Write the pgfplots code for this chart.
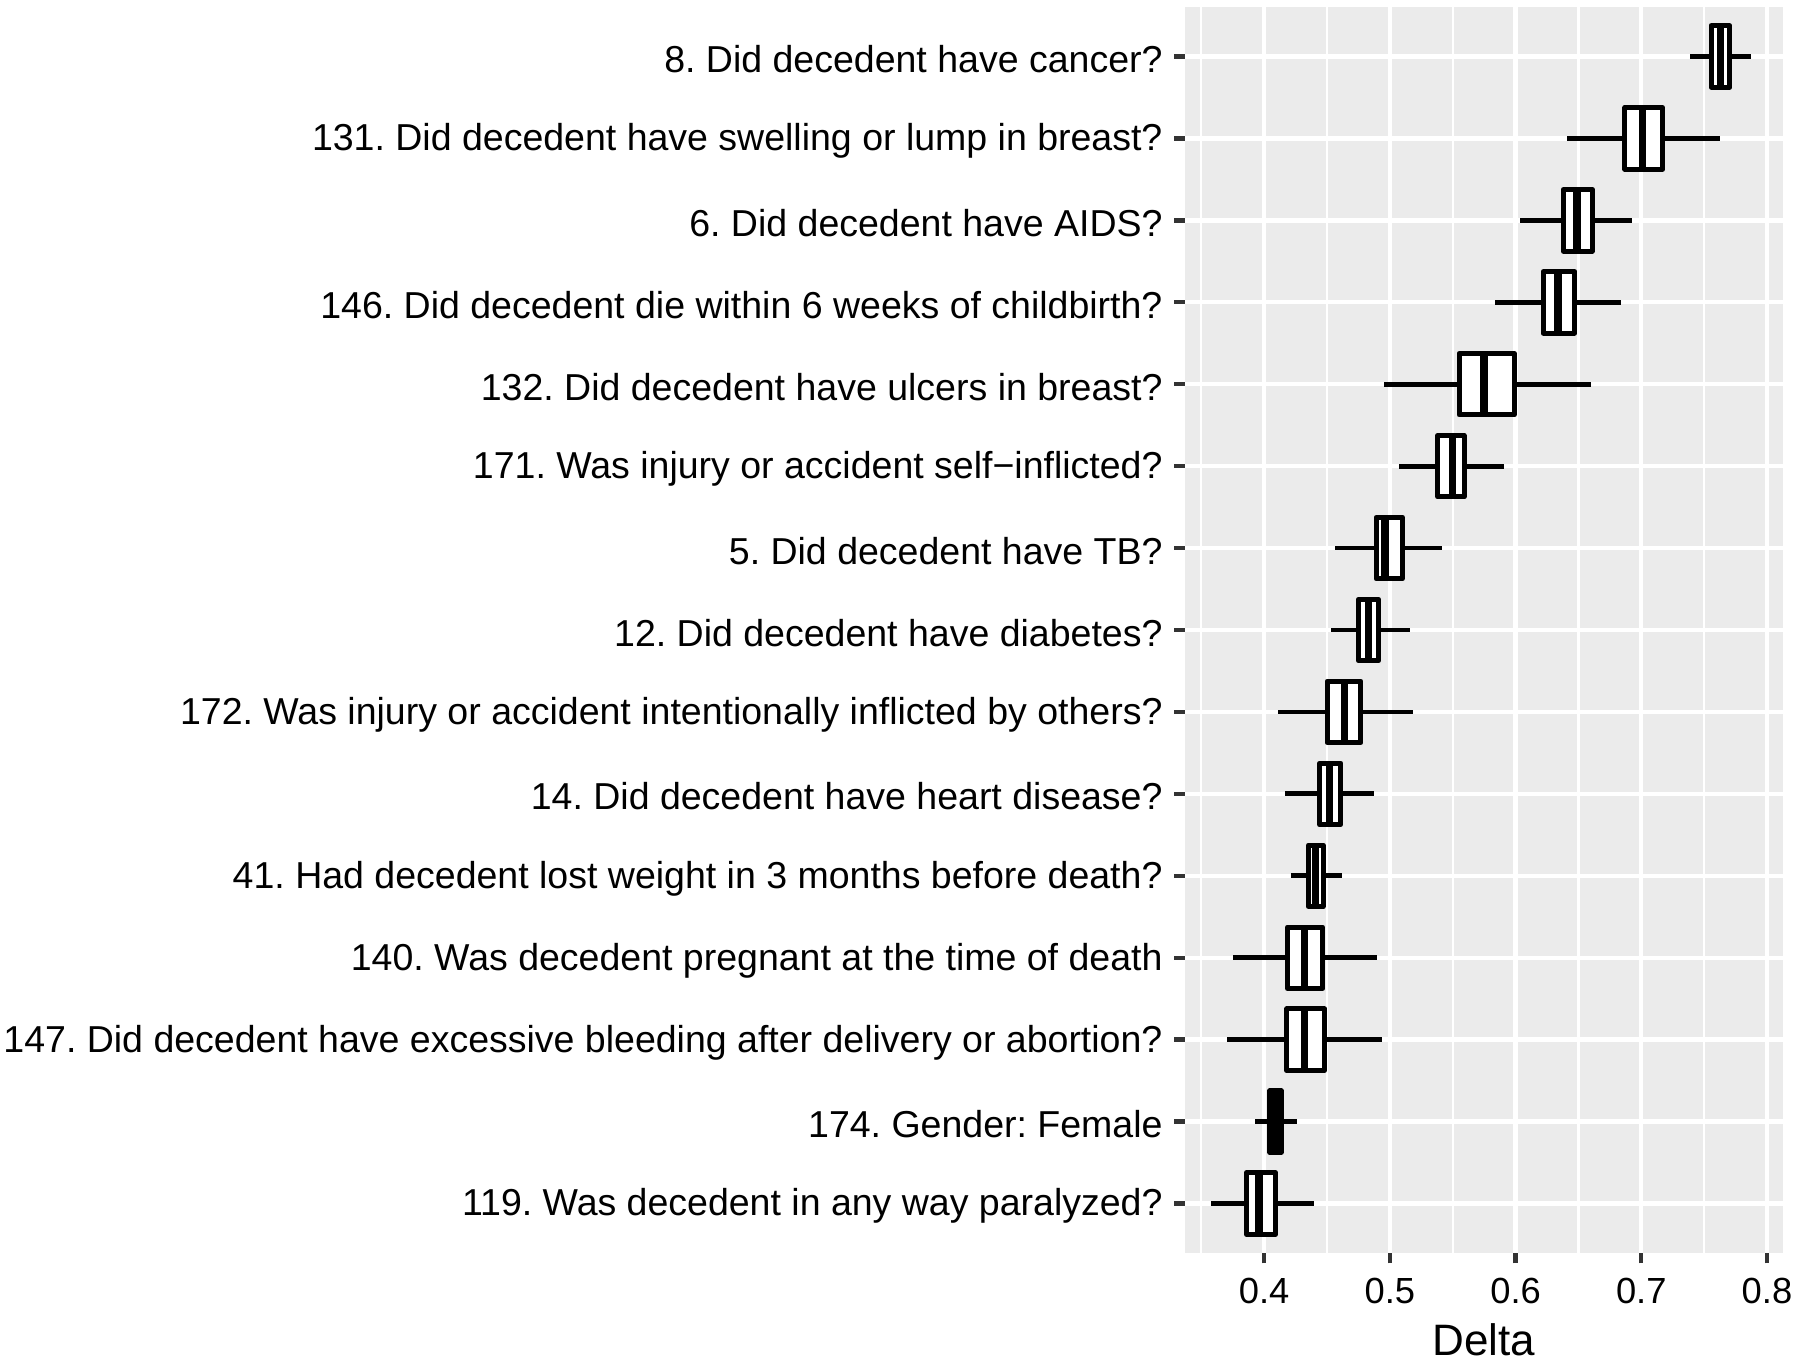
\documentclass[border=0pt]{standalone}
\usepackage{fontspec}
\setmainfont{Liberation Sans}
\usepackage{pgfplots}
\pgfplotsset{compat=1.18}
\usepgfplotslibrary{statistics}
\definecolor{panelbg}{HTML}{EBEBEB}
\definecolor{tickcol}{HTML}{333333}
\frenchspacing
\begin{document}
\begin{tikzpicture}
\begin{axis}[
  scale only axis,
  width=179.3pt, height=373.6pt,
  xmin=0.337, xmax=0.8125, ymin=0.4, ymax=15.6,
  axis background/.style={fill=panelbg},
  axis line style={draw=none},
  xtick={0.4,0.5,0.6,0.7,0.8},
  xticklabels={0.4,0.5,0.6,0.7,0.8},
  minor xtick={0.35,0.45,0.55,0.65,0.75},
  ytick={1,2,3,4,5,6,7,8,9,10,11,12,13,14,15},
  yticklabels={
    119. Was decedent in any way paralyzed?,
    174. Gender: Female,
    147. Did decedent have excessive bleeding after delivery or abortion?,
    140. Was decedent pregnant at the time of death,
    41. Had decedent lost weight in 3 months before death?,
    14. Did decedent have heart disease?,
    172. Was injury or accident intentionally inflicted by others?,
    12. Did decedent have diabetes?,
    5. Did decedent have TB?,
    171. Was injury or accident self−inflicted?,
    132. Did decedent have ulcers in breast?,
    146. Did decedent die within 6 weeks of childbirth?,
    6. Did decedent have AIDS?,
    131. Did decedent have swelling or lump in breast?,
    8. Did decedent have cancer?},
  xmajorgrids, xminorgrids, ymajorgrids,
  major grid style={white, line width=1.3pt},
  minor grid style={white, line width=0.7pt},
  xtick pos=left, ytick pos=left,
  tick align=outside,
  major tick length=3.2pt, minor tick length=0pt,
  major tick style={tickcol, line width=1.3pt},
  minor tick style={draw=none},
  /pgf/number format/assume math mode=true,
  xticklabel style={font=\fontsize{10.9}{12}\selectfont, text=black, yshift=-0.8pt},
  yticklabel style={font=\fontsize{11.25}{13}\selectfont, text=black, yshift=-0.8pt},
  xlabel={Delta},
  xlabel style={font=\fontsize{13.2}{15}\selectfont, at={(axis description cs:0.5,0)}, anchor=base, yshift=-30.7pt},
  boxplot/box extend=0.75,
  boxplot/whisker extend=0,
  boxplot/every box/.style={draw=black, fill=white, line width=1.5pt, line join=round},
  boxplot/every whisker/.style={draw=black, line width=1.45pt},
  boxplot/every median/.style={draw=black, line width=2.3pt},
]
\addplot[black, boxplot prepared={draw position=15, lower whisker=0.739, lower quartile=0.7555, median=0.763, upper quartile=0.7705, upper whisker=0.787}] coordinates {};
\addplot[black, boxplot prepared={draw position=14, lower whisker=0.641, lower quartile=0.687, median=0.701, upper quartile=0.717, upper whisker=0.763}] coordinates {};
\addplot[black, boxplot prepared={draw position=13, lower whisker=0.6035, lower quartile=0.638, median=0.649, upper quartile=0.661, upper whisker=0.6925}] coordinates {};
\addplot[black, boxplot prepared={draw position=12, lower whisker=0.584, lower quartile=0.622, median=0.634, upper quartile=0.647, upper whisker=0.684}] coordinates {};
\addplot[black, boxplot prepared={draw position=11, lower whisker=0.495, lower quartile=0.555, median=0.575, upper quartile=0.599, upper whisker=0.660}] coordinates {};
\addplot[black, boxplot prepared={draw position=10, lower whisker=0.507, lower quartile=0.538, median=0.5497, upper quartile=0.559, upper whisker=0.5906}] coordinates {};
\addplot[black, boxplot prepared={draw position=9, lower whisker=0.456, lower quartile=0.489, median=0.4962, upper quartile=0.510, upper whisker=0.5415}] coordinates {};
\addplot[black, boxplot prepared={draw position=8, lower whisker=0.4535, lower quartile=0.475, median=0.483, upper quartile=0.491, upper whisker=0.5164}] coordinates {};
\addplot[black, boxplot prepared={draw position=7, lower whisker=0.411, lower quartile=0.450, median=0.4638, upper quartile=0.477, upper whisker=0.5186}] coordinates {};
\addplot[black, boxplot prepared={draw position=6, lower whisker=0.4167, lower quartile=0.444, median=0.4519, upper quartile=0.461, upper whisker=0.4874}] coordinates {};
\addplot[black, boxplot prepared={draw position=5, lower whisker=0.4214, lower quartile=0.4352, median=0.4409, upper quartile=0.4468, upper whisker=0.4623}] coordinates {};
\addplot[black, boxplot prepared={draw position=4, lower whisker=0.3755, lower quartile=0.4185, median=0.4321, upper quartile=0.4465, upper whisker=0.4896}] coordinates {};
\addplot[black, boxplot prepared={draw position=3, lower whisker=0.3708, lower quartile=0.418, median=0.4321, upper quartile=0.448, upper whisker=0.4937}] coordinates {};
\addplot[black, boxplot prepared={draw position=2, lower whisker=0.3925, lower quartile=0.4045, median=0.4088, upper quartile=0.4135, upper whisker=0.4261}] coordinates {};
\addplot[black, boxplot prepared={draw position=1, lower whisker=0.358, lower quartile=0.386, median=0.396, upper quartile=0.409, upper whisker=0.440}] coordinates {};
\end{axis}
\pgfresetboundingbox
\path (-355.5pt,-33.7pt) rectangle (184.5pt,375.8pt);
\end{tikzpicture}
\end{document}
